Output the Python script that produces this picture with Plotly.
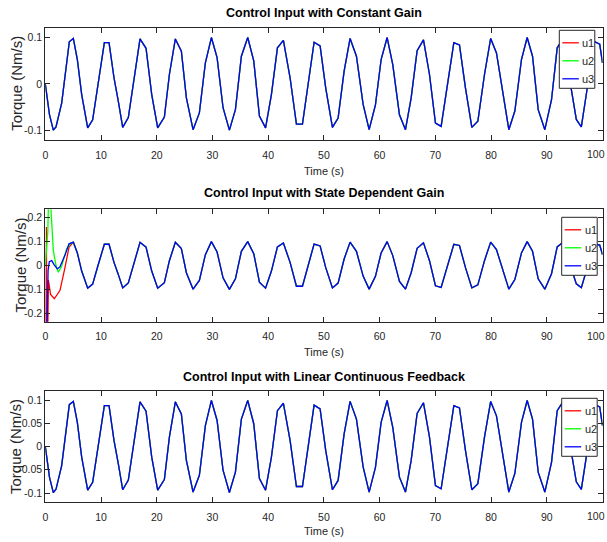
import plotly.graph_objects as go

# ---- data -------------------------------------------------------------
# steady oscillation shared by all three controllers (time s, torque Nm/s)
t_common = [0.0, 0.75, 1.44, 1.92, 2.94, 3.72, 4.31, 5.03, 5.75, 6.53, 7.61, 8.50,
            9.52, 10.60, 11.44, 12.33, 13.10, 13.89, 14.90, 16.10, 17.00, 18.08,
            19.10, 20.17, 21.37, 22.27, 23.34, 24.42, 25.32, 26.52, 27.65, 28.73,
            29.81, 30.83, 31.90, 33.04, 34.12, 35.19, 36.33, 37.41, 38.43, 39.53,
            40.58, 41.66, 42.73, 43.93, 45.07, 46.15, 47.22, 48.24, 49.32, 50.33,
            51.53, 52.55, 53.63, 54.70, 55.84, 57.04, 58.12, 59.25, 60.27, 61.35,
            62.36, 63.56, 64.64, 65.66, 66.73, 67.87, 68.95, 70.02, 71.04, 72.24,
            73.32, 74.33, 75.41, 76.55, 77.63, 78.82, 79.93, 80.97, 82.17, 83.19,
            84.27, 85.46, 86.48, 87.44, 88.46, 89.65, 90.85, 91.87, 92.90, 94.10,
            95.30, 96.20, 97.15, 97.90, 98.60, 99.50, 100.0]
u_common = [0.000, -0.066, -0.099, -0.092, -0.041, 0.031, 0.090, 0.097, 0.052, -0.023,
            -0.094, -0.077, 0.006, 0.088, 0.088, 0.013, -0.037, -0.093, -0.072, 0.027,
            0.096, 0.076, -0.023, -0.094, -0.071, 0.020, 0.096, 0.070, -0.030, -0.098,
            -0.062, 0.045, 0.099, 0.056, -0.051, -0.099, -0.055, 0.059, 0.099, 0.049,
            -0.069, -0.094, -0.023, 0.077, 0.093, 0.013, -0.086, -0.086, 0.002, 0.089,
            0.081, -0.009, -0.093, -0.073, 0.027, 0.097, 0.059, -0.044, -0.098, -0.045,
            0.052, 0.099, 0.041, -0.066, -0.098, -0.030, 0.071, 0.094, 0.020, -0.084,
            -0.091, 0.006, 0.088, 0.083, -0.009, -0.093, -0.080, 0.020, 0.097, 0.066,
            -0.023, -0.098, -0.058, 0.052, 0.099, 0.059, -0.055, -0.098, -0.034, 0.077,
            0.096, 0.010, -0.076, -0.092, -0.018, 0.055, 0.090, 0.085, 0.045]

# start-up transients of the state dependent gain controller
t_sd_u1 = [0.0, 0.20, 0.30, 0.55, 0.95, 1.62, 2.64, 3.54, 4.25]
u_sd_u1 = [-0.60, 0.16, -0.60, -0.06, -0.12, -0.138, -0.103, -0.008, 0.075]
t_sd_u2 = [0.0, 0.45, 0.60, 0.95, 1.44, 1.92, 2.34, 2.94, 3.83, 4.60]
u_sd_u2 = [0.0, 0.14, 0.30, 0.26, 0.062, 0.0, -0.028, -0.002, 0.069, 0.092]
t_sd_u3 = [0.0, 0.50, 0.72, 1.15, 1.60, 2.16, 2.64, 3.54, 4.25]
u_sd_u3 = [-0.60, -0.02, 0.016, 0.020, 0.003, -0.014, -0.005, 0.043, 0.090]
t_join = 5.0  # transients merge into the common oscillation after this time

titles = ["Control Input with Constant Gain",
          "Control Input with State Dependent Gain",
          "Control Input with Linear Continuous Feedback"]
series_names = ["u1", "u2", "u3"]
series_colors = ["#ff0000", "#00ff00", "#0000ff"]

x_ticks = [0, 10, 20, 30, 40, 50, 60, 70, 80, 90, 100]
x_ticklabels = ["0", "10", "20", "30", "40", "50", "60", "70", "80", "90", "100"]
y_ticks_top = [-0.1, 0, 0.1]
y_ticklabels_top = ["-0.1", "0", "0.1"]
y_ticks_mid = [-0.2, -0.1, 0, 0.1, 0.2]
y_ticklabels_mid = ["-0.2", "-0.1", "0", "0.1", "0.2"]
y_ticks_bot = [-0.1, -0.05, 0, 0.05, 0.1]
y_ticklabels_bot = ["-0.1", "-0.05", "0", "0.05", "0.1"]
y_ranges = [[-0.12, 0.12], [-0.233, 0.233], [-0.12, 0.12]]

# ---- layout geometry (pixels) ------------------------------------------
W, H = 607, 542
X0, X1 = 45.3, 602.5
panels = [(27.7, 140.0), (209.3, 321.7), (390.7, 502.3)]  # (top, bottom)
LABEL_DROP = 14.0  # distance from x axis line to the centre of its tick labels


def px(x):
    return x / W


def py(y):
    return 1 - y / H


SANS = "Liberation Sans, Arial, Helvetica, sans-serif"
AX = "#262626"
TICK_FONT = dict(family=SANS, size=10.5, color=AX)

fig = go.Figure()

tail_t = [t for t in t_common if t >= t_join]
tail_u = [u for t, u in zip(t_common, u_common) if t >= t_join]
mid_sets = [(t_sd_u1 + tail_t, u_sd_u1 + tail_u),
            (t_sd_u2 + tail_t, u_sd_u2 + tail_u),
            (t_sd_u3 + tail_t, u_sd_u3 + tail_u)]

for p in range(3):
    xa = "x" if p == 0 else f"x{p+1}"
    ya = "y" if p == 0 else f"y{p+1}"
    for k in range(3):
        if p == 1:
            tx, ux = mid_sets[k]
        else:
            tx, ux = t_common, u_common
        fig.add_trace(go.Scatter(x=tx, y=ux, mode="lines", name=series_names[k],
                                 line=dict(color=series_colors[k], width=1.3),
                                 xaxis=xa, yaxis=ya, showlegend=False))

axis_common = dict(showline=True, linecolor=AX, linewidth=1, mirror="ticks",
                   ticks="inside", ticklen=5, tickcolor=AX, tickwidth=1,
                   showgrid=False, zeroline=False, automargin=False,
                   ticklabeloverflow="allow", tickfont=TICK_FONT)

ytick_sets = [(y_ticks_top, y_ticklabels_top), (y_ticks_mid, y_ticklabels_mid),
              (y_ticks_bot, y_ticklabels_bot)]
# the last x label sits at the right page edge, so it is placed as an
# annotation anchored on its right side instead of centred on the tick
x_ticktext = x_ticklabels[:-1] + [""]
layout_axes = {}
for p, (top, bot) in enumerate(panels):
    sfx = "" if p == 0 else str(p + 1)
    layout_axes["xaxis" + sfx] = dict(axis_common, domain=[px(X0), px(X1)],
                                      range=[0, 100], tickvals=x_ticks,
                                      ticktext=x_ticktext, ticklabelstandoff=5,
                                      anchor="y" + sfx)
    layout_axes["yaxis" + sfx] = dict(axis_common, domain=[py(bot), py(top)],
                                      range=y_ranges[p], tickvals=ytick_sets[p][0],
                                      ticktext=ytick_sets[p][1],
                                      anchor="x" + sfx)

annotations = []
shapes = []
title_y = [13, 193, 377]
xlabel_y = [171, 352, 531]
ylabel_x = [17, 20, 15.5]
legend_boxes = [(559.3, 30.3), (561.7, 217.3), (561.7, 398.3)]
for p, (top, bot) in enumerate(panels):
    annotations.append(dict(text="<b>" + titles[p] + "</b>", x=px((X0 + X1) / 2),
                            y=py(title_y[p]), xref="paper", yref="paper",
                            showarrow=False, xanchor="center", yanchor="middle",
                            font=dict(family=SANS, size=12.5, color="#000000")))
    annotations.append(dict(text="Time (s)", x=px((X0 + X1) / 2), y=py(xlabel_y[p]),
                            xref="paper", yref="paper", showarrow=False,
                            xanchor="center", yanchor="middle",
                            font=dict(family=SANS, size=11, color=AX)))
    annotations.append(dict(text="Torque (Nm/s)", x=px(ylabel_x[p]),
                            y=py((top + bot) / 2), xref="paper", yref="paper",
                            showarrow=False, textangle=-90, xanchor="center",
                            yanchor="middle",
                            font=dict(family=SANS, size=15, color=AX)))
    annotations.append(dict(text=x_ticklabels[-1], x=1.0, y=py(bot + LABEL_DROP),
                            xref="paper", yref="paper", showarrow=False,
                            xanchor="right", yanchor="middle", font=TICK_FONT))
    # legend box
    lx, ly = legend_boxes[p]
    shapes.append(dict(type="rect", xref="paper", yref="paper",
                       x0=px(lx), x1=px(lx + 35.5), y0=py(ly), y1=py(ly + 58),
                       fillcolor="white", line=dict(color=AX, width=1), layer="above"))
    for k in range(3):
        ey = ly + 12.5 + 18 * k
        shapes.append(dict(type="line", xref="paper", yref="paper",
                           x0=px(lx + 3), x1=px(lx + 19.5), y0=py(ey), y1=py(ey),
                           line=dict(color=series_colors[k], width=1.3), layer="above"))
        annotations.append(dict(text=series_names[k], x=px(lx + 21), y=py(ey),
                                xref="paper", yref="paper", showarrow=False,
                                xanchor="left", yanchor="middle",
                                font=dict(family=SANS, size=11, color=AX)))

fig.update_layout(width=W, height=H, margin=dict(l=0, r=0, t=0, b=0),
                  autosize=False,
                  paper_bgcolor="white", plot_bgcolor="white",
                  showlegend=False, annotations=annotations, shapes=shapes,
                  **layout_axes)

fig.write_html("out.html", config={"responsive": False})
